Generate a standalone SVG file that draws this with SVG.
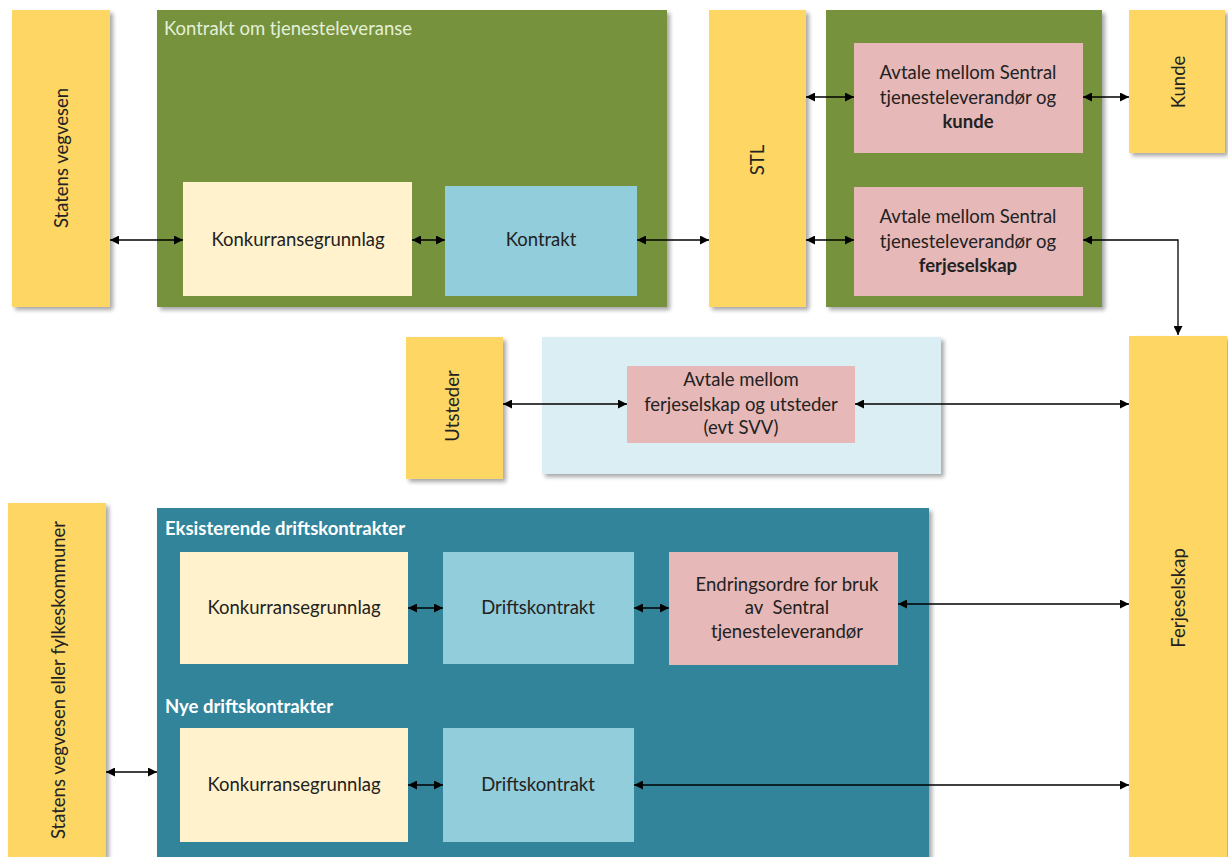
<svg xmlns="http://www.w3.org/2000/svg" width="1228" height="857" viewBox="0 0 1228 857">
<defs>
<filter id="sh" x="-10%" y="-10%" width="130%" height="130%">
<feGaussianBlur in="SourceAlpha" stdDeviation="2"/>
<feOffset dx="3" dy="3" result="o"/>
<feComponentTransfer><feFuncA type="linear" slope="0.35"/></feComponentTransfer>
<feMerge><feMergeNode/><feMergeNode in="SourceGraphic"/></feMerge>
</filter>
<marker id="ah" viewBox="0 0 10 10" refX="10" refY="5" markerWidth="9" markerHeight="9" markerUnits="userSpaceOnUse" orient="auto-start-reverse">
<path d="M0,0 L10,5 L0,10 Z" fill="#000"/>
</marker>
</defs>
<style>
text{font-family:Lato,"Open Sans","Liberation Sans",sans-serif;font-size:18.5px;fill:#222;text-anchor:middle;white-space:pre}
.b{font-weight:bold}
.yel{fill:#fdd663}
.grn{fill:#76923c}
.teal{fill:#31849b}
.cream{fill:#fff2cc}
.lb{fill:#92cddc}
.pink{fill:#e6b8b7}
.pale{fill:#dbeef3}
.wt{fill:#e4efd8;text-anchor:start}
.wb{fill:#ffffff;text-anchor:start;font-weight:bold}
.c{stroke:#000;stroke-width:1.3;fill:none;marker-start:url(#ah);marker-end:url(#ah)}
</style>
<rect width="1228" height="857" fill="#fff"/>

<g id="statens-vegvesen"><rect class="yel" x="12" y="10" width="98" height="297" filter="url(#sh)"/><text transform="translate(68,158) rotate(-90)">Statens vegvesen</text></g>

<g id="kontrakt-tjenesteleveranse"><rect class="grn" x="157" y="10" width="510" height="297" filter="url(#sh)"/><text class="wt" x="164" y="35">Kontrakt om tjenesteleveranse</text></g>
<g id="konkurransegrunnlag-1"><rect class="cream" x="183" y="182" width="229" height="114"/><text x="298" y="246">Konkurransegrunnlag</text></g>
<g id="kontrakt"><rect class="lb" x="445" y="186" width="192" height="110"/><text x="541" y="246">Kontrakt</text></g>

<g id="stl"><rect class="yel" x="709" y="10" width="97" height="297" filter="url(#sh)"/><text transform="translate(764,160) rotate(-90)">STL</text></g>

<g id="avtale-group"><rect class="grn" x="826" y="10" width="276" height="297" filter="url(#sh)"/></g>
<g id="avtale-kunde"><rect class="pink" x="854" y="43" width="229" height="110"/><text x="968" y="79">Avtale mellom Sentral</text><text x="968" y="104">tjenesteleverandør og</text><text class="b" x="968" y="128">kunde</text></g>
<g id="avtale-ferjeselskap"><rect class="pink" x="854" y="187" width="229" height="109"/><text x="968" y="223">Avtale mellom Sentral</text><text x="968" y="248">tjenesteleverandør og</text><text class="b" x="968" y="272">ferjeselskap</text></g>

<g id="kunde"><rect class="yel" x="1129" y="10" width="96" height="143" filter="url(#sh)"/><text transform="translate(1185,82) rotate(-90)">Kunde</text></g>

<g id="utsteder"><rect class="yel" x="406" y="337" width="97" height="142" filter="url(#sh)"/><text transform="translate(459,406) rotate(-90)">Utsteder</text></g>
<g id="utsteder-group"><rect class="pale" x="542" y="337" width="399" height="137" filter="url(#sh)"/></g>
<g id="avtale-utsteder"><rect class="pink" x="627" y="366" width="228" height="77"/><text x="741" y="386">Avtale mellom</text><text x="741" y="411">ferjeselskap og utsteder</text><text x="741" y="434">(evt SVV)</text></g>

<g id="ferjeselskap"><rect class="yel" x="1129" y="336" width="98" height="521" filter="url(#sh)"/><text transform="translate(1185,598) rotate(-90)">Ferjeselskap</text></g>

<g id="statens-vegvesen-fylkeskommuner"><rect class="yel" x="8" y="503" width="98" height="354" filter="url(#sh)"/><text transform="translate(65,680) rotate(-90)">Statens vegvesen eller fylkeskommuner</text></g>

<g id="driftskontrakter"><rect class="teal" x="157" y="508" width="772" height="349" filter="url(#sh)"/><text class="wb" x="165" y="535">Eksisterende driftskontrakter</text><text class="wb" x="165" y="713">Nye driftskontrakter</text></g>
<g id="konkurransegrunnlag-2"><rect class="cream" x="180" y="552" width="228" height="112"/><text x="294" y="614">Konkurransegrunnlag</text></g>
<g id="driftskontrakt-1"><rect class="lb" x="443" y="552" width="191" height="112"/><text x="538" y="614">Driftskontrakt</text></g>
<g id="endringsordre"><rect class="pink" x="669" y="552" width="229" height="113"/><text x="787" y="591">Endringsordre for bruk</text><text x="787" y="614">av  Sentral</text><text x="787" y="638">tjenesteleverandør</text></g>
<g id="konkurransegrunnlag-3"><rect class="cream" x="180" y="728" width="228" height="114"/><text x="294" y="791">Konkurransegrunnlag</text></g>
<g id="driftskontrakt-2"><rect class="lb" x="443" y="728" width="191" height="114"/><text x="538" y="791">Driftskontrakt</text></g>

<g id="connectors">
<line class="c" x1="110" y1="240" x2="183" y2="240"/>
<line class="c" x1="412" y1="240" x2="445" y2="240"/>
<line class="c" x1="637" y1="240" x2="709" y2="240"/>
<line class="c" x1="806" y1="97" x2="854" y2="97"/>
<line class="c" x1="1083" y1="97" x2="1129" y2="97"/>
<line class="c" x1="806" y1="240" x2="854" y2="240"/>
<polyline class="c" points="1083,240 1178,240 1178,335"/>
<line class="c" x1="503" y1="404" x2="627" y2="404"/>
<line class="c" x1="855" y1="404" x2="1129" y2="404"/>
<line class="c" x1="106" y1="772" x2="157" y2="772"/>
<line class="c" x1="408" y1="608" x2="443" y2="608"/>
<line class="c" x1="634" y1="608" x2="669" y2="608"/>
<line class="c" x1="898" y1="604" x2="1129" y2="604"/>
<line class="c" x1="408" y1="785" x2="443" y2="785"/>
<line class="c" x1="634" y1="785" x2="1129" y2="785"/>
</g>
</svg>
